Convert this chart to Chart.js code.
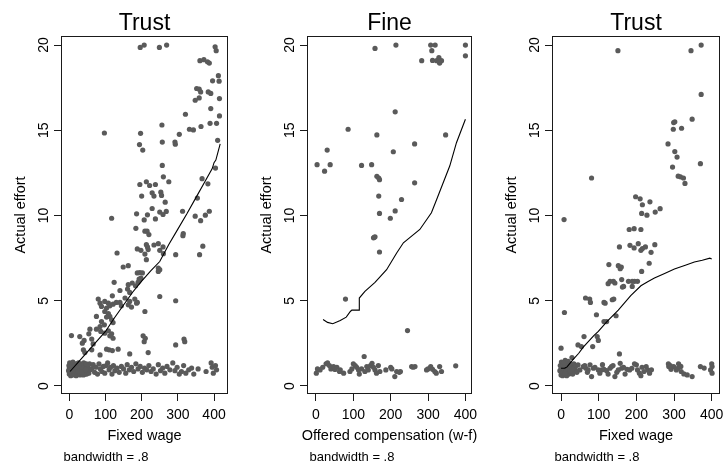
<!DOCTYPE html>
<html>
<head>
<meta charset="utf-8">
<script src="https://cdn.jsdelivr.net/npm/chart.js@4.4.1/dist/chart.umd.min.js"></script>
<style>
  html, body { margin: 0; padding: 0; background: #fff; }
  #wrap { position: relative; width: 724px; height: 466px; overflow: hidden; background: #fff; }
  canvas { position: absolute; top: 0; }
</style>
</head>
<body>
<div id="wrap">
  <canvas id="p1" width="240" height="466" style="left:0px"></canvas>
  <canvas id="p2" width="240" height="466" style="left:240px"></canvas>
  <canvas id="p3" width="240" height="466" style="left:484px"></canvas>
</div>
<script>
// ---- labels ----
const panelTitles = ['Trust', 'Fine', 'Trust'];
const xTitles = ['Fixed wage', 'Offered compensation (w-f)', 'Fixed wage'];
const yTitle = 'Actual effort';
const noteText = 'bandwidth = .8';
const xTicks = [0, 100, 200, 300, 400];
const yTicks = [0, 5, 10, 15, 20];

// ---- panel 1: Trust, fixed wage vs actual effort ----
const trustAPoints = [
  [196,19.86],[207,20.0],[249,19.86],[269,20.0],[403,19.9],[406,19.67],[361,19.08],[372,19.14],[382,19.02],[387,18.94],
  [412,18.2],[414,17.88],[396,17.9],[352,17.45],[359,17.41],[363,17.25],[384,17.25],[391,17.16],[348,16.76],[359,16.9],
  [415,16.86],[391,16.27],[321,15.94],[415,15.84],[389,15.41],[407,15.41],[364,15.22],[332,15.06],[343,15.02],[304,14.76],
  [292,14.31],[293,14.18],[410,14.41],[97,14.84],[197,14.82],[256,15.31],[194,14.16],[203,13.84],[257,14.31],
  [257,12.94],[260,12.27],[275,11.98],[195,11.82],[213,11.98],[222,11.76],[238,11.82],[200,11.14],[229,11.33],[234,11.14],
  [253,11.37],[255,11.18],[265,10.78],[367,12.16],[383,11.86],[354,11.02],[313,10.25],[348,9.96],[363,9.7],[376,10.02],
  [387,10.25],[117,9.84],[186,10.1],[207,9.74],[216,10.04],[238,9.8],[229,10.41],[250,10.2],[259,10.06],[268,10.24],
  [184,9.25],[209,9.08],[215,9.08],[220,8.88],[315,8.94],[314,8.82],[132,7.8],[188,8.04],[198,7.96],[213,8.29],
  [216,8.16],[218,8.0],[234,8.27],[246,8.35],[250,7.96],[259,8.16],[260,7.76],[209,7.74],[213,7.41],[294,7.7],
  [360,7.7],[369,8.2],[149,6.98],[163,7.06],[188,6.63],[202,6.63],[195,6.65],[246,6.92],[250,6.82],[193,6.27],[404,12.78],
  [198,6.33],[246,6.72],[124,6.08],[163,5.94],[174,6.04],[183,5.88],[190,6.08],[194,6.2],[140,5.6],[161,5.69],
  [167,5.49],[119,5.29],[154,5.16],[167,4.96],[181,5.1],[188,4.9],[163,4.76],[172,4.63],[186,4.86],[80,5.1],
  [85,4.86],[98,4.96],[108,4.86],[89,4.67],[103,4.57],[112,4.7],[121,4.8],[130,4.9],[140,4.9],[144,4.7],
  [98,4.37],[108,4.24],[112,4.08],[103,4.04],[117,3.88],[121,3.72],[250,5.25],[294,5.0],[209,4.37],[75,4.08],
  [89,3.78],[97,3.59],[85,3.49],[75,3.33],[87,3.2],[98,3.1],[108,3.24],[117,3.06],[121,2.8],[112,2.94],
  [57,3.33],[54,3.06],[6,2.96],[29,2.9],[41,2.67],[36,2.51],[62,2.75],[66,2.47],[204,2.94],[210,2.8],
  [207,2.6],[317,2.75],[319,2.6],[294,2.41],[103,2.16],[110,2.12],[119,2.08],[135,2.16],[39,2.12],[43,1.96],
  [62,2.12],[167,1.88],[85,1.82],[218,1.96],
  [-2,0.9],[-1,1.2],[0,0.7],[0,1.05],[1,1.35],[2,0.85],[3,1.15],[4,0.6],[5,1.0],[6,1.3],
  [7,0.75],[8,1.1],[9,0.9],[10,1.4],[11,0.65],[12,1.2],[13,0.95],[14,1.05],[15,0.75],[16,1.3],
  [17,0.85],[18,1.15],[19,0.6],[20,1.0],[21,1.25],[22,0.8],[23,1.1],[24,0.7],[25,1.35],[26,0.95],
  [27,1.2],[28,0.75],[29,1.05],[30,0.65],[31,1.3],[32,0.9],[33,1.15],[34,0.75],[35,1.0],[36,1.25],
  [37,0.8],[38,1.1],[39,0.65],[40,1.35],[41,0.9],[42,1.15],[43,0.7],[44,1.05],[45,1.25],[46,0.85],
  [47,1.0],[48,0.7],[49,1.2],[50,0.9],[52,1.1],[54,0.75],[56,1.3],[58,0.95],
  [3,0.95],[8,0.7],[12,0.85],[17,1.2],[22,1.05],[27,0.9],[32,1.2],[37,1.05],[42,0.95],[47,1.3],
  [15,1.1],[25,0.85],[35,0.8],[45,0.95],
  [62,1.0],[66,1.25],[70,0.8],[74,1.1],[78,0.7],[82,1.3],[86,1.0],[90,0.85],[94,1.15],[98,0.75],
  [102,1.2],[106,1.35],[110,0.95],[114,1.1],[118,0.7],[122,1.2],[126,0.9],[132,1.05],[138,0.8],[144,1.15],
  [150,1.0],[156,0.75],[160,1.25],[166,0.95],[172,1.1],[178,0.85],[184,1.3],[190,1.0],[196,1.15],[202,0.8],
  [208,1.05],[214,0.95],[220,1.2],[226,0.85],[232,1.0],[240,0.7],[246,1.25],[252,0.9],[258,1.05],[264,0.75],
  [270,1.15],[278,0.95],[286,1.35],[292,0.9],[298,1.1],[304,0.7],[310,0.85],[316,1.2],[322,0.75],[330,0.95],
  [338,1.05],[344,0.7],[356,1.0],[378,0.85],[392,1.35],[395,1.1],[398,0.75],[404,1.2],[407,0.95]
];
const trustALowess = [
  [2,0.85],[25,1.4],[50,2.0],[75,2.6],[100,3.2],[125,4.0],[150,4.75],[175,5.5],[200,6.15],[225,6.75],
  [250,7.3],[275,8.3],[300,9.2],[325,10.1],[350,11.05],[375,12.0],[395,12.75],[400,13.1],[405,13.25],[417,14.2]
];

// ---- panel 2: Fine, offered compensation vs actual effort ----
const finePoints = [
  [158,19.8],[214,20.0],[283,19.08],[307,20.0],[319,20.0],[310,19.67],[312,19.1],[323,19.08],[329,19.27],[331,18.94],
  [336,19.08],[330,19.0],[400,20.0],[400,19.37],[212,16.08],[86,15.06],[163,14.73],[347,14.73],[264,14.2],[207,13.74],
  [30,13.84],[3,12.98],[23,12.6],[38,12.98],[122,12.94],[149,12.98],[163,12.3],[168,12.2],[170,12.1],[264,11.92],
  [168,11.14],[229,10.94],[212,10.27],[170,10.12],[199,9.84],[158,8.75],[154,8.69],[156,8.72],[170,7.86],[79,5.1],
  [245,3.25],
  [1,0.75],[4,1.0],[11,0.94],[18,1.1],[27,1.3],[31,1.35],[36,1.2],[40,1.0],[47,1.14],[51,0.97],
  [56,1.1],[63,0.85],[65,0.94],[74,0.75],[91,0.85],[96,1.0],[100,1.3],[105,1.2],[109,1.1],[114,0.94],
  [116,0.7],[122,1.0],[129,1.73],[131,0.85],[136,1.14],[140,0.94],[146,1.2],[150,1.33],[154,1.1],[158,0.94],
  [162,0.75],[167,1.2],[171,0.85],[187,0.94],[200,1.1],[203,1.0],[211,0.55],[216,0.85],[223,0.8],[226,0.85],
  [256,1.14],[260,1.1],[265,1.14],[296,0.94],[300,1.0],[307,1.14],[312,0.98],[318,0.85],[322,0.75],[331,1.14],
  [336,0.85],[374,1.18]
];
const fineLowess = [
  [19,3.9],[31,3.73],[45,3.65],[65,3.84],[81,4.04],[92,4.37],[96,4.45],[116,4.45],[116,5.16],[131,5.55],
  [158,6.08],[189,6.82],[216,7.8],[234,8.4],[247,8.63],[278,9.18],[309,10.16],[323,10.94],[358,12.9],[376,14.27],[400,15.65]
];

// ---- panel 3: Trust, fixed wage vs actual effort ----
const trustBPoints = [
  [151,19.67],[345,19.67],[372,20.0],[372,17.1],[348,15.65],[299,15.45],[302,15.5],[298,15.06],[320,15.12],[284,14.2],
  [302,13.75],[308,13.43],[296,12.84],[370,13.04],[311,12.31],[317,12.27],[325,12.2],[329,11.88],[81,12.2],[8,9.76],
  [198,11.1],[210,10.98],[216,10.63],[236,10.8],[214,10.12],[228,10.02],[250,10.2],[263,10.4],[181,9.18],[194,9.23],
  [212,9.18],
  [155,8.16],[183,8.25],[194,8.1],[205,8.35],[212,7.96],[216,8.06],[224,8.16],[239,7.84],[249,8.29],[127,7.12],
  [152,7.06],[157,6.88],[160,6.98],[214,6.72],[234,7.2],[130,6.14],[125,6.0],[139,6.14],[143,6.04],[161,6.24],
  [166,5.84],[163,5.8],[179,6.14],[189,6.14],[195,6.14],[203,6.14],[189,5.84],[65,5.16],[76,5.1],[78,4.9],
  [114,4.9],[117,4.86],[136,5.06],[140,5.1],[9,4.31],[94,4.18],[114,3.78],[121,3.78],[146,4.12],[61,2.9],
  [96,2.9],[99,2.67],[45,2.41],[54,2.31],[84,2.31],[0,2.22],[29,1.67],[155,1.88],
  [-3,0.9],[-2,1.2],[0,0.65],[0,1.0],[1,1.4],[2,0.8],[3,1.15],[4,0.6],[5,1.3],[6,0.95],
  [7,1.1],[8,0.7],[9,1.25],[10,0.85],[11,1.5],[12,1.05],[13,0.65],[14,1.2],[15,0.9],[16,1.35],
  [17,0.75],[18,1.1],[19,0.95],[20,1.3],[21,0.7],[22,1.15],[23,0.85],[24,1.0],[25,1.25],[26,0.75],
  [27,1.1],[28,0.9],[30,1.2],[31,0.7],[32,1.0],[34,1.3],[35,0.85],[36,1.1],[38,0.95],[40,1.2],
  [42,0.8],[2,1.05],[6,0.8],[9,0.95],[13,1.0],[17,1.0],[21,1.05],[25,0.9],[29,1.0],[4,1.2],
  [8,1.35],[15,0.6],[19,1.45],[23,1.3],[11,0.75],
  [45,1.24],[50,0.94],[59,1.14],[66,1.04],[72,0.94],[77,1.24],[81,0.55],[86,1.04],[99,0.94],[103,0.75],
  [108,0.94],[114,0.98],[121,0.9],[130,1.04],[134,1.14],[143,0.55],[152,0.94],[157,1.33],[161,1.04],[175,0.98],
  [182,0.94],[188,1.04],[200,1.24],[203,0.94],[208,0.75],[212,0.6],[226,1.14],[230,0.94],[235,0.75],[286,1.14],
  [292,0.98],[299,1.14],[306,0.94],[310,1.04],[319,0.85],[326,0.71],[335,0.65],[348,0.55],[370,1.14],[397,0.94],
  [401,1.14],[401,0.75],
  [63,1.2],[70,0.8],[90,1.1],[110,1.25],[125,0.7],[138,1.2],[148,0.8],[166,1.1],[170,0.7],[195,1.3],
  [215,1.1],[220,0.85],[240,0.95],[285,1.3],[290,1.2],[312,1.3],[318,1.15],[380,1.05],[400,1.3]
];
const trustBLowess = [
  [0,1.04],[10,1.05],[16,1.12],[30,1.5],[47,1.92],[59,2.28],[87,2.95],[99,3.2],[123,3.8],[152,4.45],
  [185,5.3],[212,5.88],[230,6.12],[248,6.33],[275,6.6],[301,6.86],[330,7.08],[354,7.27],[375,7.38],[395,7.5],[400,7.45]
];

// ---- shared styling ----
const FONT = '"Liberation Sans", Arial, Helvetica, sans-serif';
const INK = '#1a1a1a';
const DOT = '#5a5a5a';

// Frame, rotated y tick labels, titles and the note, positioned from the chart area.
const panelText = {
  id: 'panelText',
  afterDraw(chart, args, opts) {
    const { ctx, chartArea: a } = chart;
    const y = chart.scales.y;
    ctx.save();
    ctx.strokeStyle = INK;
    ctx.lineWidth = 1;
    ctx.strokeRect(Math.round(a.left) + 0.5, Math.round(a.top) + 0.5,
                   Math.round(a.right - a.left) - 1, Math.round(a.bottom - a.top) - 1);

    ctx.fillStyle = '#000';
    ctx.font = '14px ' + FONT;
    ctx.textAlign = 'center';
    ctx.textBaseline = 'alphabetic';
    y.ticks.forEach(t => {
      const py = y.getPixelForValue(t.value);
      ctx.save();
      ctx.translate(a.left - 13, py);
      ctx.rotate(-Math.PI / 2);
      ctx.fillText(String(t.value), 0, 0);
      ctx.restore();
    });

    ctx.font = '14.5px ' + FONT;
    ctx.save();
    ctx.translate(a.left - 36, (a.top + a.bottom) / 2);
    ctx.rotate(-Math.PI / 2);
    ctx.fillText(yTitle, 0, 0);
    ctx.restore();

    const cx = (a.left + a.right) / 2;
    ctx.fillText(opts.xTitle, cx, 440);

    ctx.font = '23px ' + FONT;
    ctx.fillText(opts.title, cx, 29.5);

    ctx.font = '13px ' + FONT;
    ctx.textAlign = 'left';
    ctx.fillText(noteText, a.left + 2.5, 460.5);
    ctx.restore();
  }
};

function toXY(pairs) { return pairs.map(p => ({ x: p[0], y: p[1] })); }

function makePanel(id, points, lowess, i, leftWidth, rightPad, xMin, xMax) {
  return new Chart(document.getElementById(id), {
    type: 'scatter',
    data: {
      datasets: [
        {
          type: 'line',
          data: toXY(lowess),
          borderColor: '#000',
          borderWidth: 1.1,
          pointRadius: 0,
          fill: false,
          tension: 0,
          order: 1
        },
        {
          type: 'scatter',
          data: toXY(points),
          backgroundColor: DOT,
          borderWidth: 0,
          pointRadius: 2.6,
          order: 2
        }
      ]
    },
    options: {
      responsive: false,
      animation: false,
      devicePixelRatio: 1,
      layout: { padding: { left: 0, right: rightPad, top: 36, bottom: 0 } },
      plugins: {
        legend: { display: false },
        tooltip: { enabled: false },
        panelText: { title: panelTitles[i], xTitle: xTitles[i] }
      },
      scales: {
        x: {
          type: 'linear',
          min: xMin,
          max: xMax,
          afterBuildTicks: s => { s.ticks = xTicks.map(v => ({ value: v })); },
          afterFit: s => { s.height = 72; s.paddingLeft = 0; s.paddingRight = 0; },
          grid: { drawOnChartArea: false, drawTicks: true, tickLength: 7, color: INK, lineWidth: 1 },
          border: { display: false },
          ticks: { color: '#000', font: { family: FONT, size: 14 }, padding: 6, maxRotation: 0, autoSkip: false }
        },
        y: {
          type: 'linear',
          min: -0.47,
          max: 20.53,
          afterBuildTicks: s => { s.ticks = yTicks.map(v => ({ value: v })); },
          afterFit: s => { s.width = leftWidth; s.paddingTop = 0; s.paddingBottom = 0; },
          grid: { drawOnChartArea: false, drawTicks: true, tickLength: 7, color: INK, lineWidth: 1 },
          border: { display: false },
          ticks: { display: false }
        }
      }
    },
    plugins: [panelText]
  });
}

makePanel('p1', trustAPoints, trustALowess, 0, 61, 12, -22.9, 438.6);
makePanel('p2', finePoints, fineLowess, 1, 67, 8, -24, 417.6);
makePanel('p3', trustBPoints, trustBLowess, 2, 68, 4, -24, 422);
</script>
</body>
</html>
